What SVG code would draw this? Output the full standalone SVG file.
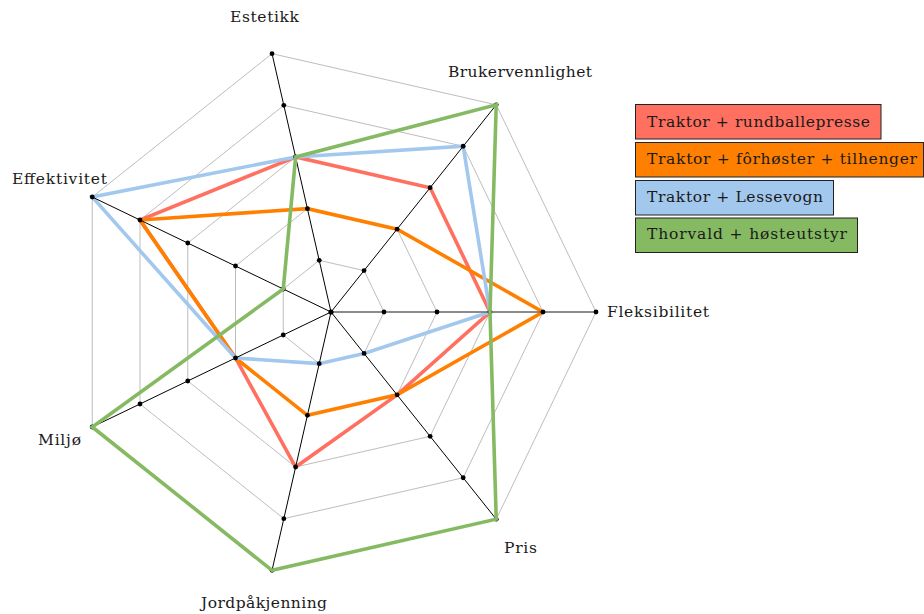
<svg xmlns="http://www.w3.org/2000/svg" width="924" height="614" viewBox="0 0 924 614">
  <style>
    .bg { fill: #ffffff; }
    .grid { fill: none; stroke: #b5b5b5; stroke-width: 0.9; }
    .axis { stroke: #000000; stroke-width: 1; }
    .axis-x { stroke: #666666; stroke-width: 1.4; }
    .tick { fill: #000000; }
    .series { fill: none; stroke-width: 3.6; stroke-linejoin: miter; }
    .s-red { stroke: #ff7060; }
    .s-orange { stroke: #ff8000; }
    .s-blue { stroke: #a3c8ee; }
    .s-green { stroke: #85ba62; }
    .label { font-family: "DejaVu Serif", "Liberation Serif", serif; font-size: 15.5px; fill: #1a1a1a; }
    .legend-box { stroke: #222222; stroke-width: 1; }
  </style>

  <rect class="bg" x="0" y="0" width="924" height="614"/>

  <!-- radial grid: one heptagon per level -->
  <g id="grid">
    <polygon class="grid" points="384,312 364.05,270.56 319.21,260.33 283.25,289 283.25,335 319.21,363.67 364.05,353.44"/>
    <polygon class="grid" points="437,312 397.09,229.13 307.41,208.66 235.5,266.01 235.5,357.99 307.41,415.34 397.09,394.87"/>
    <polygon class="grid" points="490,312 430.14,187.69 295.62,156.99 187.75,243.01 187.75,380.99 295.62,467.01 430.14,436.31"/>
    <polygon class="grid" points="543,312 463.18,146.25 283.82,105.32 140,220.02 140,403.98 283.82,518.68 463.18,477.75"/>
    <polygon class="grid" points="596,312 496.23,104.82 272.03,53.65 92.25,197.02 92.25,426.98 272.03,570.36 496.23,519.19"/>
  </g>

  <!-- data series -->
  <g id="series-rundballepresse">
    <polygon class="series s-red" points="490,312 430.14,187.69 295.62,156.99 140,220.02 235.5,357.99 295.62,467.01 397.09,394.87"/>
  </g>
  <g id="series-forhoster">
    <polygon class="series s-orange" points="543,312 397.09,229.13 307.41,208.66 140,220.02 235.5,357.99 307.41,415.34 397.09,394.87"/>
  </g>
  <g id="series-lessevogn">
    <polygon class="series s-blue" points="490,312 463.18,146.25 295.62,156.99 92.25,197.02 235.5,357.99 319.21,363.67 364.05,353.44"/>
  </g>

  <!-- axes with level marks -->
  <g id="axes">
    <line class="axis-x" x1="331" y1="312" x2="596" y2="312"/>
    <line class="axis" x1="331" y1="312" x2="496.23" y2="104.82"/>
    <line class="axis" x1="331" y1="312" x2="272.03" y2="53.65"/>
    <line class="axis" x1="331" y1="312" x2="92.25" y2="197.02"/>
    <line class="axis" x1="331" y1="312" x2="92.25" y2="426.98"/>
    <line class="axis" x1="331" y1="312" x2="272.03" y2="570.36"/>
    <line class="axis" x1="331" y1="312" x2="496.23" y2="519.19"/>
    <g class="tick">
      <circle cx="331" cy="312" r="2.6"/>
      <circle cx="384" cy="312" r="2.4"/><circle cx="437" cy="312" r="2.4"/><circle cx="490" cy="312" r="2.4"/><circle cx="543" cy="312" r="2.4"/><circle cx="596" cy="312" r="2.4"/>
      <circle cx="364.05" cy="270.56" r="2.4"/><circle cx="397.09" cy="229.13" r="2.4"/><circle cx="430.14" cy="187.69" r="2.4"/><circle cx="463.18" cy="146.25" r="2.4"/><circle cx="496.23" cy="104.82" r="2.4"/>
      <circle cx="319.21" cy="260.33" r="2.4"/><circle cx="307.41" cy="208.66" r="2.4"/><circle cx="295.62" cy="156.99" r="2.4"/><circle cx="283.82" cy="105.32" r="2.4"/><circle cx="272.03" cy="53.65" r="2.4"/>
      <circle cx="283.25" cy="289" r="2.4"/><circle cx="235.5" cy="266.01" r="2.4"/><circle cx="187.75" cy="243.01" r="2.4"/><circle cx="140" cy="220.02" r="2.4"/><circle cx="92.25" cy="197.02" r="2.4"/>
      <circle cx="283.25" cy="335" r="2.4"/><circle cx="235.5" cy="357.99" r="2.4"/><circle cx="187.75" cy="380.99" r="2.4"/><circle cx="140" cy="403.98" r="2.4"/><circle cx="92.25" cy="426.98" r="2.4"/>
      <circle cx="319.21" cy="363.67" r="2.4"/><circle cx="307.41" cy="415.34" r="2.4"/><circle cx="295.62" cy="467.01" r="2.4"/><circle cx="283.82" cy="518.68" r="2.4"/><circle cx="272.03" cy="570.36" r="2.4"/>
      <circle cx="364.05" cy="353.44" r="2.4"/><circle cx="397.09" cy="394.87" r="2.4"/><circle cx="430.14" cy="436.31" r="2.4"/><circle cx="463.18" cy="477.75" r="2.4"/><circle cx="496.23" cy="519.19" r="2.4"/>
    </g>
  </g>

  <g id="series-thorvald">
    <polygon class="series s-green" points="490,312 496.23,104.82 295.62,156.99 283.25,289 92.25,426.98 272.03,570.36 496.23,519.19"/>
  </g>

  <!-- axis labels -->
  <g id="axis-labels">
    <text class="label" x="230" y="22" textLength="69" lengthAdjust="spacing">Estetikk</text>
    <text class="label" x="448" y="77" textLength="144" lengthAdjust="spacing">Brukervennlighet</text>
    <text class="label" x="607" y="317" textLength="102" lengthAdjust="spacing">Fleksibilitet</text>
    <text class="label" x="12" y="184" textLength="95" lengthAdjust="spacing">Effektivitet</text>
    <text class="label" x="38" y="445" textLength="43" lengthAdjust="spacing">Miljø</text>
    <text class="label" x="201" y="608" textLength="126" lengthAdjust="spacing">Jordpåkjenning</text>
    <text class="label" x="504" y="553" textLength="33" lengthAdjust="spacing">Pris</text>
  </g>

  <!-- legend -->
  <g id="legend">
    <g id="legend-rundballepresse">
      <rect class="legend-box" x="635.5" y="104.5" width="245.5" height="34.5" fill="#ff7060"/>
      <text class="label" x="647" y="127" textLength="223" lengthAdjust="spacing">Traktor + rundballepresse</text>
    </g>
    <g id="legend-forhoster">
      <rect class="legend-box" x="635.5" y="142.5" width="288" height="34.5" fill="#ff8000"/>
      <text class="label" x="647" y="164" textLength="270" lengthAdjust="spacing">Traktor + fôrhøster + tilhenger</text>
    </g>
    <g id="legend-lessevogn">
      <rect class="legend-box" x="635.5" y="180.5" width="198" height="34.5" fill="#a3c8ee"/>
      <text class="label" x="647" y="202" textLength="176" lengthAdjust="spacing">Traktor + Lessevogn</text>
    </g>
    <g id="legend-thorvald">
      <rect class="legend-box" x="635.5" y="218" width="222" height="34.5" fill="#85ba62"/>
      <text class="label" x="647" y="239" textLength="200" lengthAdjust="spacing">Thorvald + høsteutstyr</text>
    </g>
  </g>
</svg>
